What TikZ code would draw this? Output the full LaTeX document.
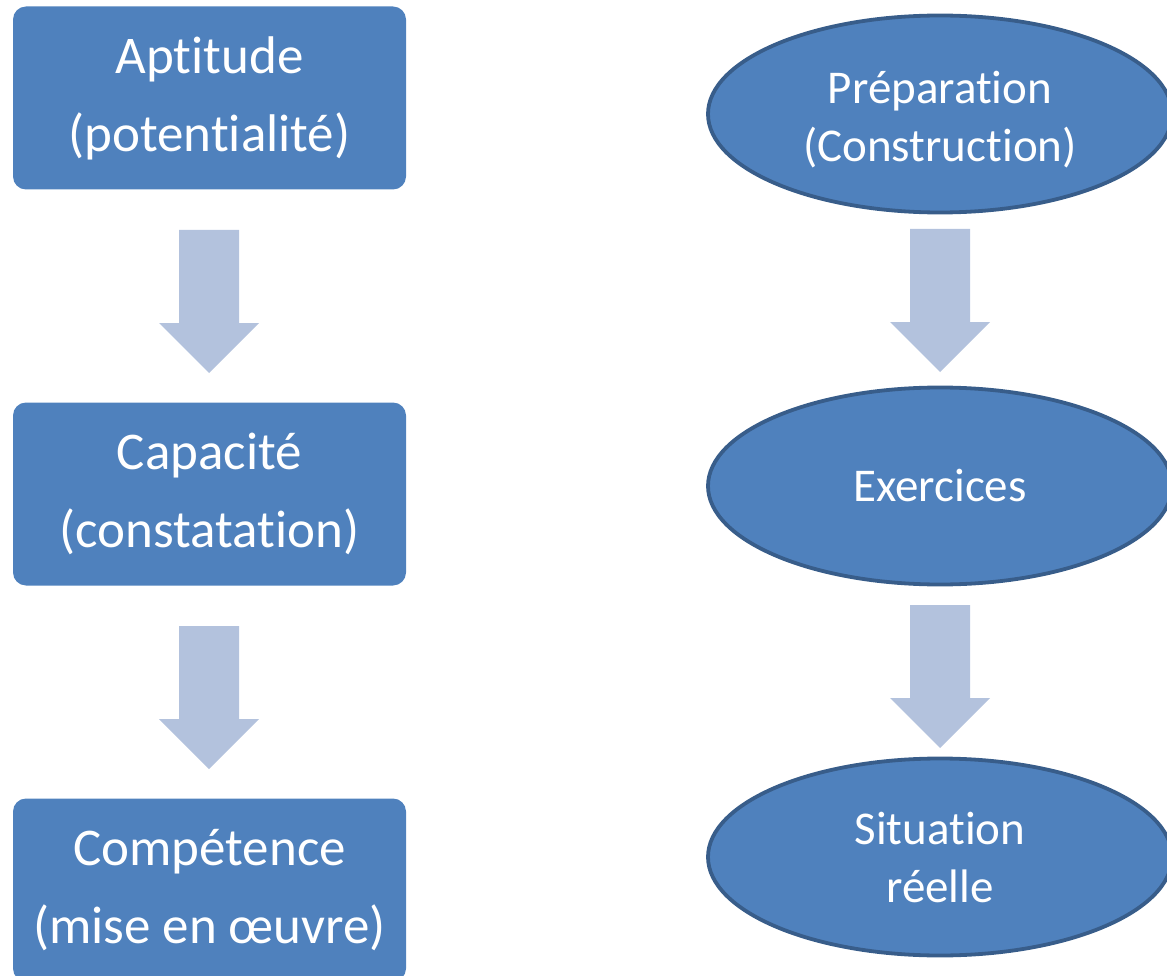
\documentclass[tikz,border=0pt]{standalone}
\usepackage{fontspec}
\setmainfont{Carlito}[Ligatures={NoCommon}]
\usetikzlibrary{shapes.geometric}
\definecolor{boxblue}{HTML}{4F81BD}
\definecolor{ellborder}{HTML}{385D8A}
\definecolor{arrowfill}{HTML}{B3C2DD}
\tikzset{
  stepbox/.style={fill=boxblue, draw=none, rounded corners=13pt, minimum width=393pt,
    minimum height=183pt, inner sep=0pt, text=white, align=center,
    font=\fontsize{53}{78}\selectfont},
  stageell/.style={ellipse, fill=boxblue, draw=ellborder, line width=3.8pt,
    minimum width=464pt, minimum height=197pt, inner sep=0pt, text=white, align=center,
    font=\fontsize{47}{58}\selectfont},
  downarrow/.pic={\fill[arrowfill] (-30,0) -- (30,0) -- (30,93) -- (50,93) -- (0,143)
    -- (-50,93) -- (-30,93) -- cycle;}
}
\begin{document}
\begin{tikzpicture}[x=1pt,y=-1pt]
\useasboundingbox (0,0) rectangle (1167,976);
% left column
\node[stepbox] (apt) at (209.5,98) {Aptitude\\(potentialité)};
\node[stepbox] (cap) at (209.5,494) {Capacité\\(constatation)};
\node[stepbox] (comp) at (209.5,890) {Compétence\\(mise en œuvre)};
% right column
\node[stageell] (prep) at (940,114) {\rule{0pt}{43pt}Préparation\\(Construction)};
\node[stageell] (exo) at (940,486) {Exercices};
\node[stageell] (sit) at (940,857) {Situation\\réelle};
% block arrows
\pic (a1) at (209,230) {downarrow};
\pic (a2) at (209,626) {downarrow};
\pic (a3) at (940,229) {downarrow};
\pic (a4) at (940,605) {downarrow};
\end{tikzpicture}
\end{document}
